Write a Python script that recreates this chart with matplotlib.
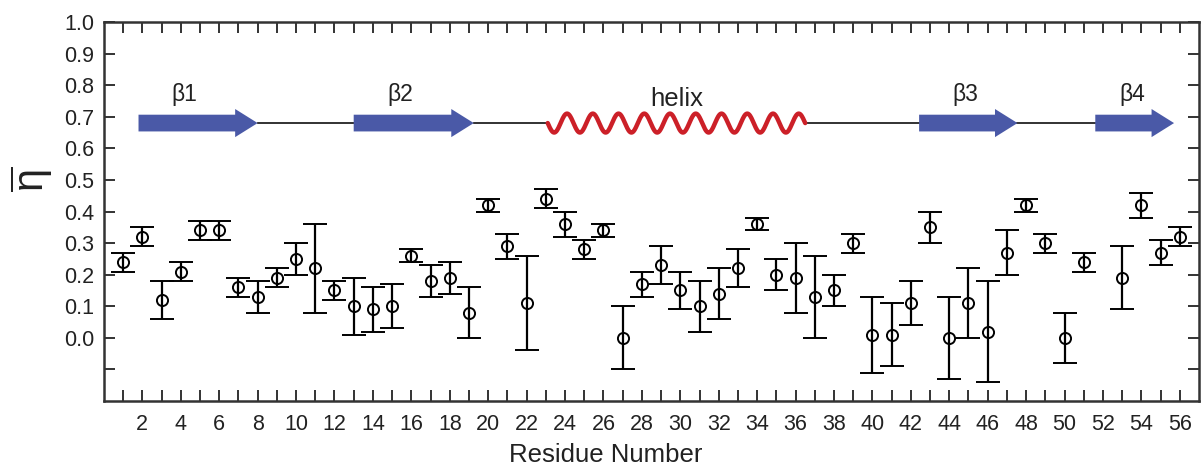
import numpy as np
import matplotlib
matplotlib.use('Agg')
import matplotlib.pyplot as plt
from matplotlib.patches import FancyArrow

plt.rcParams['font.family'] = ['Liberation Sans', 'DejaVu Sans']
plt.rcParams['mathtext.fontset'] = 'custom'
plt.rcParams['mathtext.rm'] = 'Liberation Sans'
plt.rcParams['mathtext.it'] = 'Liberation Sans:italic'

# order parameter per residue (residue 52 has no data)
residues = list(range(1, 52)) + [53, 54, 55, 56]
eta = [0.24, 0.32, 0.12, 0.21, 0.34, 0.34, 0.16, 0.13, 0.19, 0.25,
       0.22, 0.15, 0.10, 0.09, 0.10, 0.26, 0.18, 0.19, 0.08, 0.42,
       0.29, 0.11, 0.44, 0.36, 0.28, 0.34, 0.00, 0.17, 0.23, 0.15,
       0.10, 0.14, 0.22, 0.36, 0.20, 0.19, 0.13, 0.15, 0.30, 0.01,
       0.01, 0.11, 0.35, 0.00, 0.11, 0.02, 0.27, 0.42, 0.30, 0.00,
       0.24, 0.19, 0.42, 0.27, 0.32]
eta_err = [0.03, 0.03, 0.06, 0.03, 0.03, 0.03, 0.03, 0.05, 0.03, 0.05,
           0.14, 0.03, 0.09, 0.07, 0.07, 0.02, 0.05, 0.05, 0.08, 0.02,
           0.04, 0.15, 0.03, 0.04, 0.03, 0.02, 0.10, 0.04, 0.06, 0.06,
           0.08, 0.08, 0.06, 0.02, 0.05, 0.11, 0.13, 0.05, 0.03, 0.12,
           0.10, 0.07, 0.05, 0.13, 0.11, 0.16, 0.07, 0.02, 0.03, 0.08,
           0.03, 0.10, 0.04, 0.04, 0.03]

# secondary structure (residue ranges)
strand_names = ['β1', 'β2', 'β3', 'β4']
strand_start = [1.8, 13.0, 42.43, 51.6]
strand_end = [8.0, 19.25, 47.55, 55.7]
helix_start, helix_end = 23.1, 36.5
ss_level = 0.68

fig = plt.figure(figsize=(12.03, 4.65), dpi=100)
ax = fig.add_axes([0.0864, 0.1376, 0.9103, 0.8151])

ax.errorbar(residues, eta, yerr=eta_err, fmt='o', color='black',
            markerfacecolor='none', markeredgecolor='black', markersize=8,
            markeredgewidth=1.4, elinewidth=1.6, capsize=8.5, capthick=1.6,
            zorder=3)

# connecting loop lines
loop_pts = [(strand_end[0], strand_start[1]), (strand_end[1], helix_start),
            (helix_end, strand_start[2]), (strand_end[2], strand_start[3])]
for a, b in loop_pts:
    ax.plot([a, b], [ss_level, ss_level], color='#222222', lw=1.3, zorder=2)

blue = '#4a59a7'
for name, s, e in zip(strand_names, strand_start, strand_end):
    arr = FancyArrow(s, ss_level, e - s, 0, width=0.053, head_width=0.089,
                     head_length=1.17, length_includes_head=True,
                     color=blue, lw=0, zorder=3)
    ax.add_patch(arr)
    ax.text(s + 2.4 if e - s > 5 else (s + e) / 2 - 0.1, 0.75, name,
            fontsize=16.5, ha='center', va='baseline', color='#222222')

t = np.linspace(0, 1, 600)
hx = helix_start + (helix_end - helix_start) * t
hy = ss_level - 0.03 * np.sin(2 * np.pi * 10 * t)
ax.plot(hx, hy, color='#cc2028', lw=3.2, solid_capstyle='round', zorder=3)
ax.text((helix_start + helix_end) / 2, 0.735, 'helix', fontsize=18.5,
        ha='center', va='baseline', color='#222222')

ax.set_xlim(0, 57)
ax.set_ylim(-0.2, 1.0)
ax.set_xticks(range(1, 57))
ax.set_xticklabels([str(i) if i % 2 == 0 else '' for i in range(1, 57)])
yt = np.round(np.arange(-0.1, 1.01, 0.1), 1)
ax.set_yticks(yt)
ax.set_yticklabels(['' if v < 0 else f'{v:.1f}' for v in yt])
ax.tick_params(direction='in', length=8, width=1.4, color='#333333',
               labelsize=15.5, labelcolor='#222222', top=True, right=True)
ax.tick_params(axis='x', pad=9)
ax.tick_params(axis='y', pad=7)
for sp in ax.spines.values():
    sp.set_linewidth(1.8)
    sp.set_color('#333333')

fig.text(0.5036, 0.006, 'Residue Number', fontsize=18.5, ha='center',
         va='baseline', color='#222222')
fig.text(0.026, 0.615, r'$\overline{\mathrm{\eta}}$', fontsize=30,
         rotation=90, ha='center', va='center', color='#222222')

fig.savefig('out.png', dpi=100)
